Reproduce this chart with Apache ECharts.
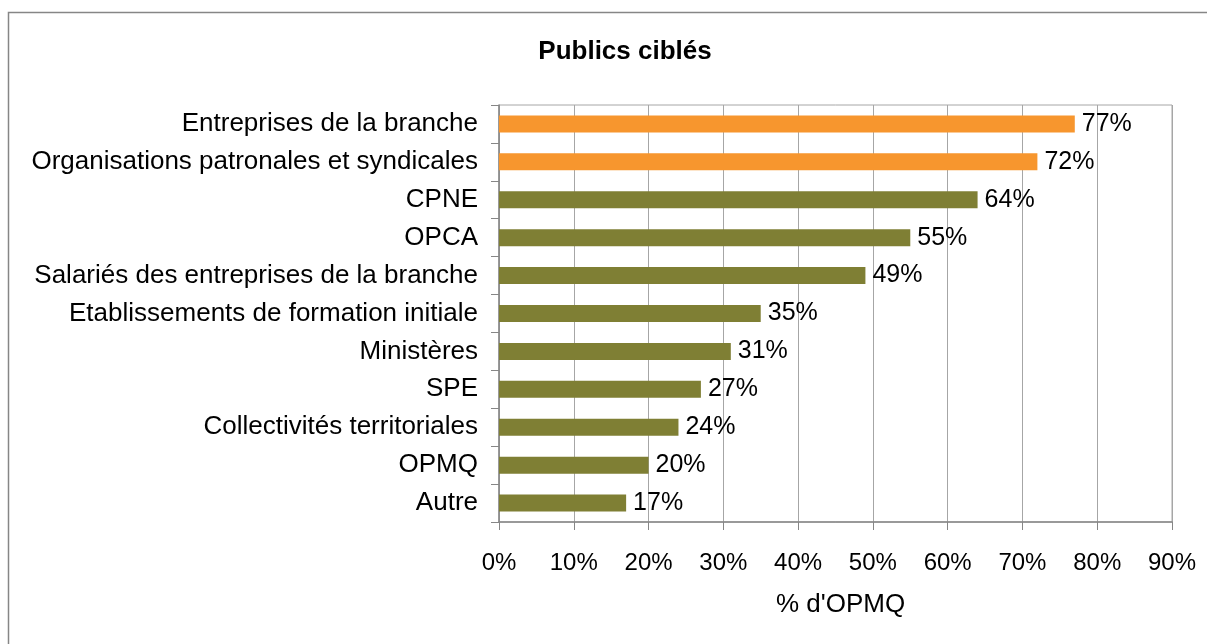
<!DOCTYPE html>
<html>
<head>
<meta charset="utf-8">
<script src="https://cdn.jsdelivr.net/npm/echarts@6/dist/echarts.min.js"></script>
<style>
  html, body { margin: 0; padding: 0; background: #fff; }
  #chart { width: 1207px; height: 644px; }
</style>
</head>
<body>
<div id="chart"></div>
<script>
// données (de haut en bas)
const categories = [
  'Entreprises de la branche',
  'Organisations patronales et syndicales',
  'CPNE',
  'OPCA',
  'Salariés des entreprises de la branche',
  'Etablissements de formation initiale',
  'Ministères',
  'SPE',
  'Collectivités territoriales',
  'OPMQ',
  'Autre'
];
const values = [77, 72, 64, 55, 49, 35, 31, 27, 24, 20, 17];
// les deux premiers sont en orange
const highlighted = [true, true, false, false, false, false, false, false, false, false, false];

const chart = echarts.init(document.getElementById('chart'));

const font = 'Liberation Sans, Arial, sans-serif';

const option = {
  backgroundColor: '#fff',
  animation: false,
  textStyle: { fontFamily: font },
  title: {
    text: 'Publics ciblés',
    left: 620,
    textAlign: 'center',
    top: 34,
    textStyle: { fontSize: 26, fontWeight: 'bold', color: '#000', fontFamily: font }
  },
  graphic: [{
    type: 'rect',
    shape: { x: 8.5, y: 12.5, width: 1220, height: 660 },
    style: { fill: 'none', stroke: '#868686', lineWidth: 1.5 },
    silent: true
  }],
  grid: {
    left: 499,
    right: 35,
    top: 105,
    bottom: 122,
    show: true,
    borderColor: '#A6A6A6',
    borderWidth: 1
  },
  xAxis: {
    type: 'value',
    min: 0,
    max: 90,
    interval: 10,
    name: "% d'OPMQ",
    nameLocation: 'middle',
    nameGap: 70,
    nameTextStyle: { fontSize: 26, color: '#000', fontFamily: font, padding: [0, 0, 0, 10] },
    axisLine: { show: true, lineStyle: { color: '#868686', width: 1.5 } },
    axisTick: { show: true, length: 8, lineStyle: { color: '#868686' } },
    axisLabel: {
      formatter: '{value}%',
      fontSize: 24,
      color: '#000',
      margin: 29,
      fontFamily: font
    },
    splitLine: { show: true, lineStyle: { color: '#A6A6A6', width: 1 } }
  },
  yAxis: {
    type: 'category',
    data: categories,
    inverse: true,
    axisLine: { show: true, lineStyle: { color: '#868686', width: 1.5 } },
    axisTick: { show: true, length: 8, lineStyle: { color: '#868686' } },
    axisLabel: { fontSize: 26, color: '#000', margin: 21, fontFamily: font },
    splitLine: { show: false }
  },
  series: [{
    type: 'bar',
    barWidth: 17,
    data: values.map((v, i) => ({
      value: v,
      itemStyle: { color: highlighted[i] ? '#F7962E' : '#7F7F34' }
    })),
    label: {
      show: true,
      position: 'right',
      distance: 7,
      formatter: '{c}%',
      fontSize: 25,
      color: '#000',
      fontFamily: font
    }
  }]
};

chart.setOption(option);
</script>
</body>
</html>
